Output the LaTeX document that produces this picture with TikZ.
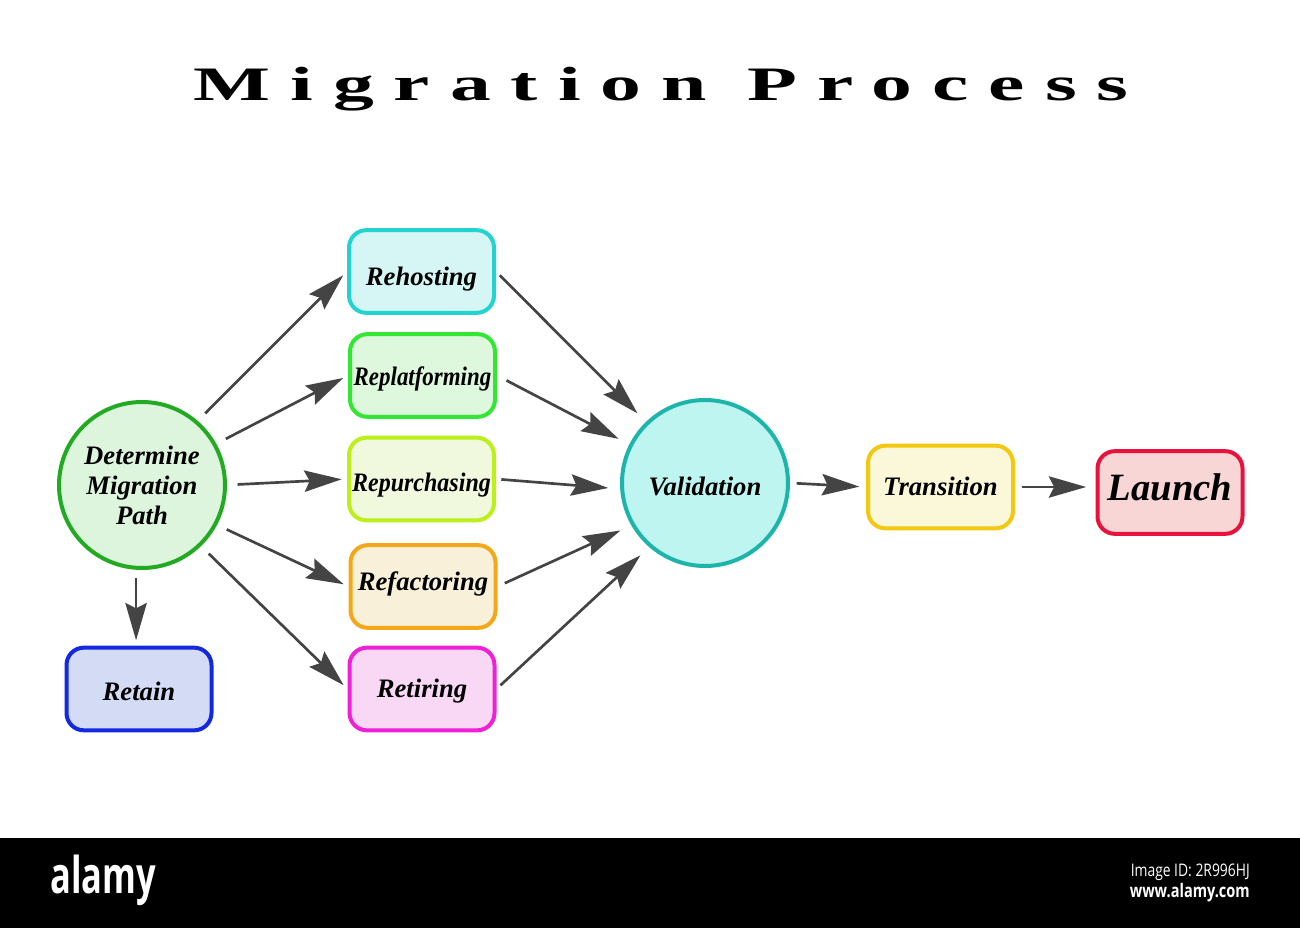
\documentclass[tikz,border=0pt]{standalone}
\usepackage{fontspec}
\setmainfont{Liberation Serif}
\newfontfamily\wmfont{Open Sans}
\usetikzlibrary{arrows.meta}
\definecolor{arr}{HTML}{444444}
\definecolor{detB}{HTML}{22AA22}\definecolor{detF}{HTML}{DDF5DD}
\definecolor{retB}{HTML}{1428E0}\definecolor{retF}{HTML}{D4DCF5}
\definecolor{rehB}{HTML}{22D3D0}\definecolor{rehF}{HTML}{D6F6F6}
\definecolor{rplB}{HTML}{33E633}\definecolor{rplF}{HTML}{DDF8DD}
\definecolor{rpuB}{HTML}{BDF01A}\definecolor{rpuF}{HTML}{F0F8DD}
\definecolor{rfaB}{HTML}{F2A818}\definecolor{rfaF}{HTML}{F8F0D8}
\definecolor{rtiB}{HTML}{F020D8}\definecolor{rtiF}{HTML}{F8D8F5}
\definecolor{valB}{HTML}{1DB5AA}\definecolor{valF}{HTML}{BEF5F0}
\definecolor{traB}{HTML}{F2C810}\definecolor{traF}{HTML}{FAF8D8}
\definecolor{lauB}{HTML}{E8123C}\definecolor{lauF}{HTML}{F8D6D6}
\tikzset{
  lbl/.style={font=\bfseries\itshape\fontsize{20}{22.5}\selectfont, align=center, text=black},
  box/.style={lbl, rectangle, rounded corners=13pt, line width=3pt,
              minimum width=108.75pt, minimum height=62pt, inner sep=0pt},
  bigcirc/.style={lbl, circle, line width=3pt, minimum size=124.5pt, inner sep=0pt},
  capdown/.style={text depth=5pt, text height={18.4pt+2*(#1)}},
  conn/.style={draw=arr, line width=2pt,
               -{Stealth[length=28pt,width=16pt,inset=4pt]}}
}
\begin{document}
\begin{tikzpicture}[x={(0.75pt,0)}, y={(0,-0.75pt)}]
\useasboundingbox (0,0) rectangle (1300,928);
\fill[white] (0,0) rectangle (1300,928);
% title
\node[anchor=base, inner sep=0pt] (title) at (661,100) {\scalebox{1.7}[1]{\fontsize{36}{40}\selectfont\bfseries\addfontfeature{LetterSpace=24.5}Migration Process}};
% nodes
\node[bigcirc, draw=detB, fill=detF] (det) at (142,485) {\raisebox{-2.25pt}[\height][\depth]{\begin{tabular}{@{}c@{}}Determine\\Migration\\Path\end{tabular}}};
\node[box, draw=retB, fill=retF, capdown=1.9pt] (retain) at (139,689) {Retain};
\node[box, draw=rehB, fill=rehF, capdown=3.75pt] (reh) at (421.5,271.5) {Rehosting};
\node[box, draw=rplB, fill=rplF, capdown=1.1pt] (rpl) at (422.5,375.5) {\scalebox{0.86}[1]{Replatforming}};
\node[box, draw=rpuB, fill=rpuF, capdown=3pt] (rpu) at (421.5,479) {\scalebox{0.9}[1]{Repurchasing}};
\node[box, draw=rfaB, fill=rfaF, capdown=-3.4pt] (rfa) at (423,586.5) {Refactoring};
\node[box, draw=rtiB, fill=rtiF, capdown=0pt] (rti) at (422,689) {Retiring};
\node[bigcirc, draw=valB, fill=valF, capdown=3pt] (val) at (705,483) {Validation};
\node[box, draw=traB, fill=traF, capdown=0pt] (tra) at (940.5,487) {Transition};
\node[box, draw=lauB, fill=lauF, font=\bfseries\itshape\fontsize{29}{32}\selectfont, text depth=5pt, text height=16.8pt] (lau) at (1170,492.5) {Launch};
% connectors
\draw[conn, shorten <=8pt, shorten >=4pt] (det.49) -- (reh.west);
\draw[conn, shorten <=8pt, shorten >=4pt] (det.29) -- (rpl.west);
\draw[conn, shorten <=8pt, shorten >=4pt] (det.0) -- (rpu.west);
\draw[conn, shorten <=8pt, shorten >=4pt] (det.-28) -- (rfa.west);
\draw[conn, shorten <=8pt, shorten >=4pt] (det.-46) -- (rti.west);
\draw[conn, shorten <=6pt, shorten >=4pt] (det.-94) -- (det.-94 |- retain.north);
\draw[conn, shorten <=4pt, shorten >=9pt] (reh.east) -- (val.134);
\draw[conn, shorten <=8pt, shorten >=9pt] (rpl.east) -- (val.153);
\draw[conn, shorten <=4pt, shorten >=9pt] (rpu.east) -- (val.184);
\draw[conn, shorten <=6pt, shorten >=9pt] (rfa.east) -- (val.210);
\draw[conn, shorten <=4pt, shorten >=9pt] (rti.east) -- (val.229);
\draw[conn, shorten <=5pt, shorten >=5pt] (val.east) -- (tra.west);
\draw[conn, shorten <=5pt, shorten >=7pt] (tra.east) -- (tra.east -| lau.west);
% watermark bar
\fill[black] (0,838) rectangle (1300,928);
\node[text=white, anchor=west, inner sep=0pt] (wm) at (50,880) {\wmfont\bfseries\fontsize{38}{40}\selectfont\scalebox{0.68}[1]{alamy}};
\node[text=white, anchor=east, inner sep=0pt] (wmid) at (1250,872) {\wmfont\fontsize{13}{15}\selectfont\scalebox{0.8}[1]{Image ID: 2R996HJ}};
\node[text=white, anchor=east, inner sep=0pt] (wmurl) at (1250,893) {\wmfont\bfseries\fontsize{14}{16}\selectfont\scalebox{0.78}[1]{www.alamy.com}};
\end{tikzpicture}
\end{document}
